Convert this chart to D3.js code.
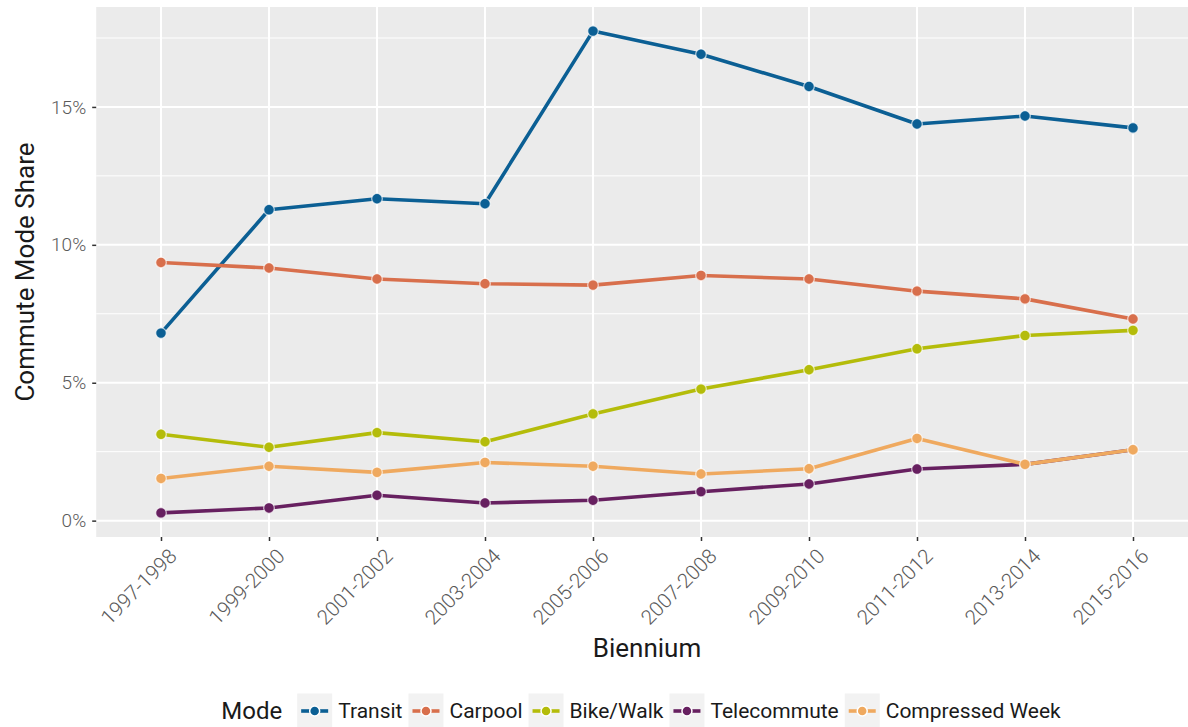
<!DOCTYPE html>
<html>
<head>
<meta charset="utf-8">
<script src="https://cdn.jsdelivr.net/npm/d3@7"></script>
<style>
  body { margin: 0; background: #fff; }
  text { font-family: Roboto, "DejaVu Sans", sans-serif; }
</style>
</head>
<body>
<script>
// data (percent of commuters)
var biennia = ["1997-1998", "1999-2000", "2001-2002", "2003-2004", "2005-2006",
               "2007-2008", "2009-2010", "2011-2012", "2013-2014", "2015-2016"];
var modes = ["Transit", "Carpool", "Bike/Walk", "Telecommute", "Compressed Week"];
var modeColors = ["#0b5f94", "#d86f4c", "#b4bc0a", "#672060", "#efa95f"];

var transit        = [6.80, 11.27, 11.67, 11.49, 17.75, 16.91, 15.74, 14.38, 14.67, 14.24];
var carpool        = [9.36, 9.16, 8.76, 8.59, 8.54, 8.89, 8.76, 8.32, 8.04, 7.31];
var bikeWalk       = [3.13, 2.66, 3.19, 2.86, 3.87, 4.77, 5.47, 6.23, 6.71, 6.90];
var telecommute    = [0.28, 0.46, 0.92, 0.64, 0.74, 1.05, 1.33, 1.87, 2.04, 2.57];
var compressedWeek = [1.53, 1.97, 1.75, 2.11, 1.97, 1.69, 1.88, 2.98, 2.04, 2.57];

var yMajor = [0, 5, 10, 15];
var yMinor = [2.5, 7.5, 12.5, 17.5];

var seriesValues = [transit, carpool, bikeWalk, telecommute, compressedWeek];
var series = modes.map(function(m, i) {
  return { name: m, color: modeColors[i],
           values: biennia.map(function(b, j) { return { cat: b, v: seriesValues[i][j] }; }) };
});

var W = 1188, H = 727;
var svg = d3.select("body").append("svg")
    .attr("width", W).attr("height", H);

var x = d3.scalePoint().domain(biennia).range([161, 1133]);
var step = x.step();
var panelLeft = x(biennia[0]) - 0.6 * step,
    panelRight = x(biennia[biennia.length - 1]) + 0.6 * step;

// ggplot-style 5% expansion of the data range
var all = d3.merge(seriesValues);
var lo = d3.min(all), hi = d3.max(all), pad = (hi - lo) * 0.05;
var y = d3.scaleLinear().domain([lo - pad, hi + pad]).range([537, 7]);

svg.append("rect")
    .attr("x", panelLeft).attr("y", y.range()[1])
    .attr("width", panelRight - panelLeft)
    .attr("height", y.range()[0] - y.range()[1])
    .attr("fill", "#ebebeb");

var grid = svg.append("g");
grid.selectAll(".minor").data(yMinor).enter().append("line")
    .attr("x1", panelLeft).attr("x2", panelRight)
    .attr("y1", function(d) { return y(d); }).attr("y2", function(d) { return y(d); })
    .attr("stroke", "#fff").attr("stroke-width", 1);
grid.selectAll(".major").data(yMajor).enter().append("line")
    .attr("x1", panelLeft).attr("x2", panelRight)
    .attr("y1", function(d) { return y(d); }).attr("y2", function(d) { return y(d); })
    .attr("stroke", "#fff").attr("stroke-width", 2);
grid.selectAll(".vert").data(biennia).enter().append("line")
    .attr("x1", function(d) { return x(d); }).attr("x2", function(d) { return x(d); })
    .attr("y1", y.range()[1]).attr("y2", y.range()[0])
    .attr("stroke", "#fff").attr("stroke-width", 2);

// axes
var yAxis = svg.append("g")
    .attr("transform", "translate(" + panelLeft + ",0)")
    .call(d3.axisLeft(y).tickValues(yMajor).tickSize(4).tickPadding(6)
          .tickFormat(function(d) { return d + "%"; }));
yAxis.select(".domain").remove();
yAxis.selectAll(".tick line").attr("stroke", "#333").attr("stroke-width", 1.5);
yAxis.selectAll(".tick text").attr("fill", "#5a5a5a")
    .style("font-size", "19px").style("font-family", "Roboto").style("font-weight", 300);

var xAxis = svg.append("g")
    .attr("transform", "translate(0," + y.range()[0] + ")")
    .call(d3.axisBottom(x).tickSize(4).tickPadding(0));
xAxis.select(".domain").remove();
xAxis.selectAll(".tick line").attr("stroke", "#333").attr("stroke-width", 1.5);
xAxis.selectAll(".tick text")
    .attr("fill", "#5a5a5a")
    .style("font-size", "20.5px").style("font-family", "Roboto").style("font-weight", 300)
    .attr("text-anchor", "end")
    .attr("y", 0).attr("dy", "0.72em")
    .attr("transform", "translate(6,10) rotate(-45)");

// lines + points
var line = d3.line()
    .x(function(d) { return x(d.cat); })
    .y(function(d) { return y(d.v); });

var sg = svg.selectAll(".series").data(series).enter().append("g");
sg.append("path")
    .attr("d", function(d) { return line(d.values); })
    .attr("fill", "none")
    .attr("stroke", function(d) { return d.color; })
    .attr("stroke-width", 3.6)
    .attr("stroke-linejoin", "round");
sg.selectAll("circle").data(function(d) { return d.values.map(function(v) { return { c: d.color, cat: v.cat, v: v.v }; }); })
  .enter().append("circle")
    .attr("cx", function(d) { return x(d.cat); })
    .attr("cy", function(d) { return y(d.v); })
    .attr("r", 5.3)
    .attr("fill", function(d) { return d.c; })
    .attr("stroke", "#fff").attr("stroke-opacity", 0.7).attr("stroke-width", 1.2);

// titles
var midX = (panelLeft + panelRight) / 2;
svg.append("text")
    .attr("x", midX).attr("y", 657)
    .attr("text-anchor", "middle")
    .style("font-size", "26px").attr("fill", "#1a1a1a")
    .text("Biennium");
svg.append("text")
    .attr("transform", "translate(34," + ((y.range()[0] + y.range()[1]) / 2) + ") rotate(-90)")
    .attr("text-anchor", "middle")
    .style("font-size", "26px").attr("fill", "#1a1a1a")
    .text("Commute Mode Share");

// legend
var legY = 711, keyW = 35;
var leg = svg.append("g");
var title = leg.append("text").attr("y", legY).attr("dy", "0.35em")
    .style("font-size", "24px").attr("fill", "#1a1a1a").text("Mode");
var cx = title.node().getComputedTextLength() + 15;
series.forEach(function(s) {
  var g = leg.append("g").attr("transform", "translate(" + cx + ",0)");
  g.append("rect").attr("x", 0).attr("y", legY - keyW / 2)
      .attr("width", keyW).attr("height", keyW).attr("fill", "#f2f2f2");
  g.append("line").attr("x1", 4).attr("x2", keyW - 4)
      .attr("y1", legY).attr("y2", legY)
      .attr("stroke", s.color).attr("stroke-width", 3.6);
  g.append("circle").attr("cx", keyW / 2).attr("cy", legY).attr("r", 5)
      .attr("fill", s.color).attr("stroke", "#fff").attr("stroke-width", 1.5);
  var t = g.append("text").attr("x", keyW + 6).attr("y", legY).attr("dy", "0.35em")
      .style("font-size", "21px").attr("fill", "#1a1a1a").text(s.name);
  cx += keyW + 6 + t.node().getComputedTextLength() + 6;
});
var legW = cx - 6;
leg.attr("transform", "translate(" + (midX - legW / 2 - 6) + ",0)");
</script>
</body>
</html>
